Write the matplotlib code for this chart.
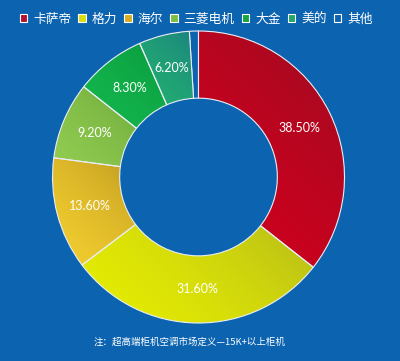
import matplotlib
matplotlib.use('Agg')
import matplotlib.pyplot as plt
from matplotlib.patches import Patch
from matplotlib.colors import to_rgb
import numpy as np

plt.rcParams['font.family'] = ['Noto Sans CJK SC', 'DejaVu Sans']

# brands, printed shares, and slice sizes as drawn in the picture
brands = ['卡萨帝', '格力', '海尔', '三菱电机', '大金', '美的', '其他']
pct_labels = [38.5, 31.6, 13.6, 9.2, 8.3, 6.2, None]
slice_sizes = [35.6, 29.1, 12.4, 8.5, 7.8, 5.6, 1.0]
colors = ['#b5102c', '#d8df0c', '#d6ad22', '#7cbf3e', '#12a640', '#1fa86a', '#0c63b0']
# dark -> bright shading for each slice (upper right to lower left)
shade_dark = ['#8a0f22', '#a8ac20', '#ae8a1c', '#5f9e30', '#07903a', '#1a7684', None]
shade_light = ['#d4001e', '#e8f000', '#f5d030', '#92cc52', '#14b84e', '#22b070', None]
note = '注：超高端柜机空调市场定义—15K+以上柜机'

bg = '#0c63b0'

fig = plt.figure(figsize=(4.0, 3.61), dpi=100)
fig.patch.set_facecolor(bg)

cx, cy, R = 198.5, 177, 146
ax = fig.add_axes([(cx - R) / 400, 1 - (cy + R) / 361, 2 * R / 400, 2 * R / 361])
ax.set_facecolor(bg)

wedges, _ = ax.pie(slice_sizes, colors=colors, startangle=90, counterclock=False,
                   radius=1.0, wedgeprops=dict(width=0.46, edgecolor='#e8eef5', linewidth=0.8))

# gradient fill clipped to each wedge
for w, c0, c1 in zip(wedges, shade_dark, shade_light):
    if c0 is None:
        continue
    ext = w.get_path().get_extents(w.get_patch_transform())
    x0, y0, x1, y1 = ext.x0, ext.y0, ext.x1, ext.y1
    gx, gy = np.meshgrid(np.linspace(x0, x1, 80), np.linspace(y0, y1, 80))
    proj = -(gx + gy)
    t = (proj - proj.min()) / (proj.max() - proj.min())
    t = np.sqrt(t)
    a, b = np.array(to_rgb(c0)), np.array(to_rgb(c1))
    img = a[None, None, :] * (1 - t[..., None]) + b[None, None, :] * t[..., None]
    im = ax.imshow(img, extent=(x0, x1, y0, y1), origin='lower', interpolation='bilinear',
                   zorder=w.get_zorder() + 0.1)
    im.set_clip_path(w)
    w.set_facecolor('none')
    w.set_zorder(w.get_zorder() + 0.2)

for w, p in zip(wedges, pct_labels):
    if p is None:
        continue
    ang = np.deg2rad((w.theta1 + w.theta2) / 2)
    r = 0.77
    ax.text(r * np.cos(ang), r * np.sin(ang), f'{p:.2f}%', ha='center', va='center',
            color='white', fontsize=9, family=['Lato', 'DejaVu Sans'], zorder=5)

ax.set_xlim(-1, 1)
ax.set_ylim(-1, 1)
ax.set_aspect('equal')
ax.axis('off')

handles = [Patch(facecolor=c, edgecolor='white', linewidth=0.8) for c in colors]
fig.legend(handles, brands, loc='center', bbox_to_anchor=(0.49, 1 - 19 / 361), ncol=7,
           frameon=False, fontsize=9.2, labelcolor='white',
           handlelength=0.6, handleheight=0.6, handletextpad=0.45, columnspacing=0.55,
           borderpad=0, borderaxespad=0)

fig.text(0.475, 1 - 342 / 361, note, ha='center', va='center', color='white', fontsize=6.8)

fig.savefig('out.png', dpi=100, facecolor=bg)
